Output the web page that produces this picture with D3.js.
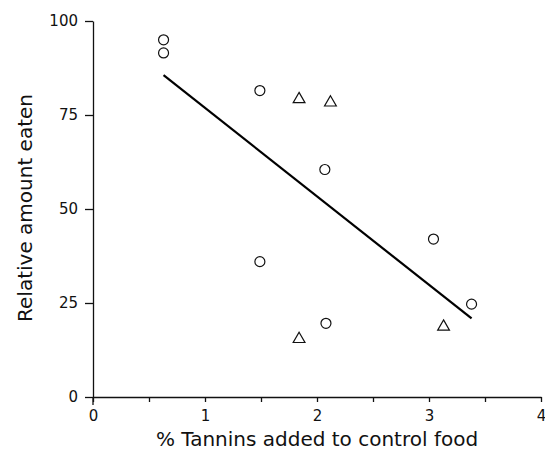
<!DOCTYPE html>
<html>
<head>
<meta charset="utf-8">
<script src="https://cdn.jsdelivr.net/npm/d3@7"></script>
<style>
  body { margin: 0; background: #fff; }
  text { font-family: "DejaVu Sans", sans-serif; fill: #111; }
</style>
</head>
<body>
<div id="chart"></div>
<script>
// circles
const circleX = [0.63, 0.63, 1.49, 2.07, 3.04, 3.38, 1.49, 2.08];
const circleY = [95, 91.5, 81.5, 60.5, 42, 24.7, 36, 19.6];
// triangles
const triX = [1.84, 2.12, 3.13, 1.84];
const triY = [79.2, 78.3, 18.7, 15.4];
// fitted line end points
const fitX = [0.63, 3.38];
const fitY = [85.6, 20.9];

const yTicks = [0, 25, 50, 75, 100];
const xTicks = [0, 0.5, 1, 1.5, 2, 2.5, 3, 3.5, 4];

const width = 545, height = 453;

const svg = d3.select("#chart")
  .append("svg")
  .attr("width", width)
  .attr("height", height);

const x = d3.scaleLinear().domain([0, 4]).range([93, 541]);
const y = d3.scaleLinear().domain([0, 100]).range([397, 21]);

const yAxis = svg.append("g")
  .attr("transform", `translate(${x(0)},0)`)
  .call(d3.axisLeft(y).tickValues(yTicks).tickSize(8).tickSizeOuter(0).tickPadding(7));

const xAxis = svg.append("g")
  .attr("transform", `translate(0,${y(0)})`)
  .call(d3.axisBottom(x).tickValues(xTicks).tickSize(5).tickSizeOuter(0).tickPadding(8)
    .tickFormat(d => Number.isInteger(d) ? d : ""));

[yAxis, xAxis].forEach(g => {
  g.selectAll("path, line").attr("stroke", "#111").attr("stroke-width", 1.3);
  g.selectAll("text").style("font-size", "15px").attr("fill", "#111");
});

// y line runs a bit below the x axis
svg.append("line")
  .attr("x1", x(0)).attr("x2", x(0))
  .attr("y1", y(0)).attr("y2", y(0) + 8)
  .attr("stroke", "#111").attr("stroke-width", 1.3);

svg.append("line")
  .attr("x1", x(fitX[0])).attr("y1", y(fitY[0]))
  .attr("x2", x(fitX[1])).attr("y2", y(fitY[1]))
  .attr("stroke", "#000")
  .attr("stroke-width", 2.2);

svg.selectAll(".pt")
  .data(circleX.map((d, i) => [d, circleY[i]]))
  .join("circle")
  .attr("class", "pt")
  .attr("cx", d => x(d[0]))
  .attr("cy", d => y(d[1]))
  .attr("r", 5)
  .attr("fill", "none")
  .attr("stroke", "#111")
  .attr("stroke-width", 1.2);

const tri = d3.symbol().type(d3.symbolTriangle).size(60);
svg.selectAll(".tri")
  .data(triX.map((d, i) => [d, triY[i]]))
  .join("path")
  .attr("class", "tri")
  .attr("d", tri)
  .attr("transform", d => `translate(${x(d[0])},${y(d[1])})`)
  .attr("fill", "none")
  .attr("stroke", "#111")
  .attr("stroke-width", 1.2);

svg.append("text")
  .attr("x", 317)
  .attr("y", 446)
  .attr("text-anchor", "middle")
  .style("font-size", "20px")
  .text("% Tannins added to control food");

svg.append("text")
  .attr("transform", "translate(32,208) rotate(-90)")
  .attr("text-anchor", "middle")
  .style("font-size", "20px")
  .text("Relative amount eaten");
</script>
</body>
</html>
